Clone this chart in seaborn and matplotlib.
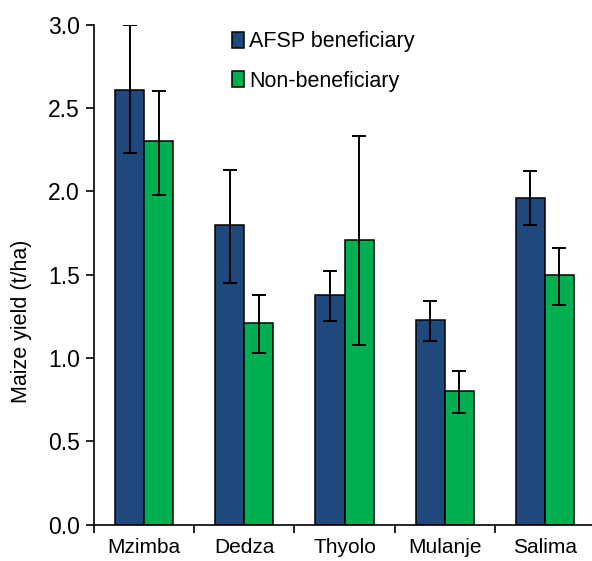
import numpy as np
import matplotlib
matplotlib.use("Agg")
import matplotlib.pyplot as plt
import matplotlib.ticker as mticker
import pandas as pd
import seaborn as sns

districts = ["Mzimba", "Dedza", "Thyolo", "Mulanje", "Salima"]
groups = ["AFSP beneficiary", "Non-beneficiary"]
afsp = [2.61, 1.80, 1.38, 1.23, 1.96]
afsp_lo = [2.23, 1.45, 1.22, 1.10, 1.80]
afsp_hi = [3.00, 2.13, 1.52, 1.34, 2.12]
non = [2.30, 1.21, 1.71, 0.80, 1.50]
non_lo = [1.98, 1.03, 1.08, 0.67, 1.32]
non_hi = [2.60, 1.38, 2.33, 0.92, 1.66]

palette = ["#1F497D", "#00B050"]

df = pd.DataFrame({
    "district": districts * 2,
    "group": [groups[0]] * 5 + [groups[1]] * 5,
    "yield": afsp + non,
    "lo": afsp_lo + non_lo,
    "hi": afsp_hi + non_hi,
})

sns.set_theme(style="ticks", rc={"text.color": "black", "axes.labelcolor": "black",
                                 "xtick.color": "black", "ytick.color": "black",
                                 "axes.edgecolor": "black"})
plt.rcParams["font.family"] = ["Liberation Sans", "DejaVu Sans"]

fig = plt.figure(figsize=(5.92, 5.61), dpi=100)
ax = fig.add_axes([94 / 592, 36.5 / 561, 501 / 592, 500 / 561])

sns.barplot(data=df, x="district", y="yield", hue="group", order=districts,
            hue_order=groups, palette=palette, width=0.58, errorbar=None,
            edgecolor="black", linewidth=1.1, saturation=1, ax=ax)

# error bars at bar centres
for cont, g in zip(ax.containers, groups):
    sub = df[df.group == g].set_index("district").loc[districts]
    xs = [p.get_x() + p.get_width() / 2 for p in cont.patches]
    ax.errorbar(xs, sub["yield"], yerr=[sub["yield"] - sub["lo"], sub["hi"] - sub["yield"]],
                fmt="none", ecolor="black", elinewidth=1.4, capsize=5, capthick=1.4)

ax.set_ylim(0, 3.0)
ax.set_xlim(-0.5, 4.5)
ax.yaxis.set_major_locator(mticker.MultipleLocator(0.5))
ax.yaxis.set_major_formatter(mticker.FormatStrFormatter("%.1f"))
ax.xaxis.set_minor_locator(mticker.FixedLocator(np.arange(-0.5, 5, 1)))
ax.tick_params(axis="x", which="major", length=0, labelsize=15, pad=10)
ax.tick_params(axis="x", which="minor", length=6, width=1.2, direction="out")
ax.tick_params(axis="y", length=6, width=1.2, labelsize=16.5, pad=4)
for s in ["left", "bottom"]:
    ax.spines[s].set_linewidth(1.2)
sns.despine(ax=ax)

ax.set_xlabel("")
ax.set_ylabel("Maize yield (t/ha)", fontsize=15.5)
ax.yaxis.set_label_coords(-0.124, 0.407)

ax.legend(loc="upper left", bbox_to_anchor=(0.237, 1.025), frameon=False, fontsize=15.5,
          handlelength=0.55, handleheight=0.75, handletextpad=0.25, labelspacing=0.85)

fig.savefig("out.png", dpi=100)
